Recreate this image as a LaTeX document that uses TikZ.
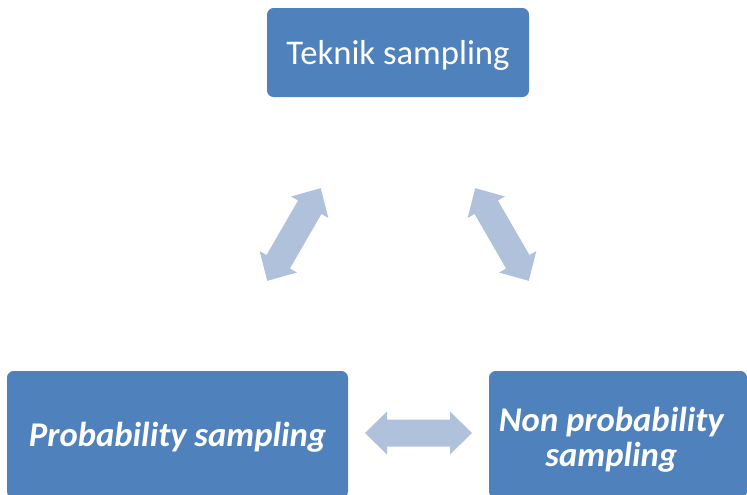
\documentclass[tikz,border=0pt]{standalone}
\usepackage{fontspec}
\setmainfont{Carlito}
\definecolor{boxblue}{RGB}{79,129,189}
\definecolor{arrowblue}{RGB}{176,193,220}
\begin{document}
\begin{tikzpicture}[x=0.75pt,y=-0.75pt,
  box/.style={fill=boxblue, rounded corners=5pt, inner sep=0pt},
  caption/.style={text=white, align=center, inner sep=0pt,
    font=\fontsize{26}{26}\selectfont},
  twoway/.pic={
    \fill[arrowblue] (-53.5,0) -- (-31.5,-21.5) -- (-31.5,-13.5) -- (31.5,-13.5)
      -- (31.5,-21.5) -- (53.5,0) -- (31.5,21.5) -- (31.5,13.5)
      -- (-31.5,13.5) -- (-31.5,21.5) -- cycle;
  }]
\useasboundingbox (0,0) rectangle (747,494);

% the three sampling boxes
\node[box, minimum width=196.5pt, minimum height=66.75pt] (top) at (398,52.5) {};
\node[box, minimum width=255.75pt, minimum height=95.25pt] (prob) at (177.5,434.5) {};
\node[box, minimum width=193.5pt, minimum height=95.25pt] (nonprob) at (618,434.5) {};

% their captions
\node[caption] (toptext) at ([yshift=-2.5pt]top.center) {Teknik sampling};
\node[caption] (probtext) at ([yshift=-2.2pt]prob.center)
  {\bfseries\itshape Probability sampling};
\node[caption] (nonprobtext) at ([xshift=-5pt,yshift=-4pt]nonprob.center)
  {\bfseries\itshape Non probability\\ \bfseries\itshape sampling};

% two-way arrows between the boxes
\coordinate (lmid) at (294,234.5);
\coordinate (rmid) at (502,234.5);
\coordinate (bmid) at (418.5,433);
\pic[rotate=60] at (lmid) {twoway};
\pic[rotate=-60] at (rmid) {twoway};
\pic at (bmid) {twoway};
\end{tikzpicture}
\end{document}
